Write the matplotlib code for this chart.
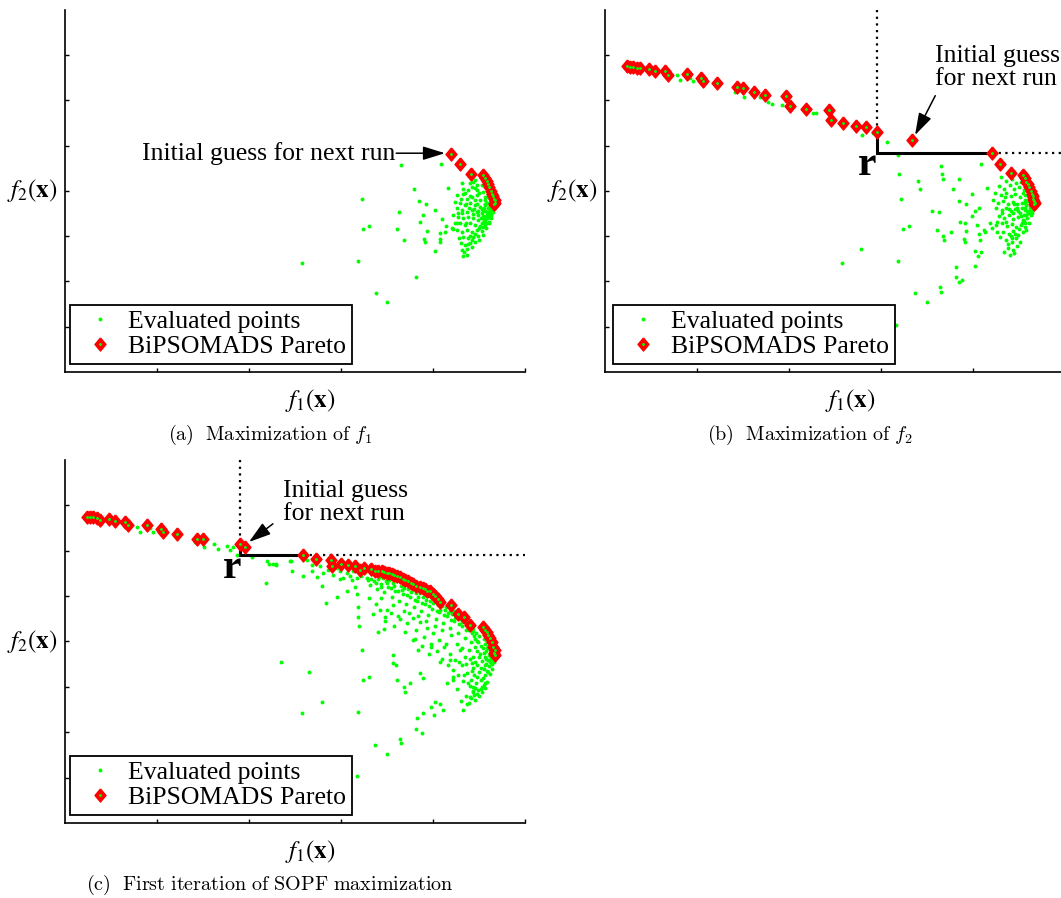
import numpy as np
import matplotlib.pyplot as plt
from matplotlib.lines import Line2D
from matplotlib.legend_handler import HandlerTuple

plt.rcParams['font.family'] = ['Liberation Serif', 'DejaVu Serif']

# ---------------- data (arbitrary objective units, one unit per tick) -------------
# (a) maximization of f1
a_pareto = np.array([
    [4.199, 4.81], [4.293, 4.60], [4.409, 4.37], [4.540, 4.35], [4.560, 4.29],
    [4.583, 4.22], [4.600, 4.15], [4.612, 4.08], [4.630, 4.00], [4.641, 3.93],
    [4.655, 3.88], [4.663, 3.83], [4.670, 3.79], [4.674, 3.74], [4.665, 3.70]])
a_eval = np.array([
    [3.649, 4.56], [4.087, 4.59], [4.160, 4.07], [3.794, 4.03], [3.225, 3.82],
    [3.852, 3.77], [3.928, 3.70], [3.634, 3.53], [4.022, 3.57], [3.891, 3.46],
    [3.862, 3.31], [4.094, 3.38], [4.138, 3.23], [3.239, 3.16], [3.308, 3.23],
    [3.612, 3.15], [3.931, 3.11], [4.130, 3.10], [3.688, 2.91], [3.906, 2.94],
    [3.917, 2.86], [4.073, 3.06], [4.077, 2.94], [4.073, 2.88], [4.026, 2.68],
    [2.580, 2.41], [3.189, 2.46], [3.819, 2.10], [3.381, 1.74], [3.500, 1.54],
    [4.203, 3.17], [4.214, 3.15],
    [4.312, 4.18], [4.402, 4.17], [4.460, 4.24], [4.330, 4.05], [4.420, 4.09],
    [4.475, 4.02], [4.529, 4.13], [4.584, 4.09], [4.258, 3.91], [4.330, 3.94],
    [4.366, 3.83], [4.420, 3.87], [4.475, 3.91], [4.511, 3.80], [4.566, 3.87],
    [4.602, 3.94], [4.638, 3.83], [4.239, 3.76], [4.294, 3.72], [4.348, 3.69],
    [4.402, 3.72], [4.457, 3.69], [4.511, 3.65], [4.566, 3.69], [4.620, 3.69],
    [4.656, 3.72], [4.258, 3.61], [4.312, 3.58], [4.366, 3.54], [4.420, 3.58],
    [4.475, 3.54], [4.529, 3.50], [4.584, 3.54], [4.631, 3.58], [4.221, 3.47],
    [4.276, 3.43], [4.330, 3.39], [4.384, 3.43], [4.439, 3.39], [4.493, 3.36],
    [4.547, 3.39], [4.602, 3.43], [4.294, 3.28], [4.348, 3.25], [4.402, 3.28],
    [4.457, 3.25], [4.511, 3.22], [4.566, 3.28], [4.613, 3.32], [4.258, 3.14],
    [4.312, 3.10], [4.366, 3.14], [4.420, 3.10], [4.475, 3.14], [4.529, 3.12],
    [4.576, 3.17], [4.330, 2.99], [4.384, 2.95], [4.439, 2.99], [4.493, 3.00],
    [4.540, 3.02], [4.301, 2.84], [4.348, 2.80], [4.402, 2.84], [4.457, 2.88],
    [4.504, 2.91], [4.312, 2.69], [4.366, 2.71], [4.420, 2.77], [4.323, 2.55],
    [4.374, 2.58], [4.547, 3.58], [4.584, 3.47], [4.620, 3.50], [4.602, 3.61],
    [4.566, 3.36], [4.529, 3.28], [4.493, 3.47], [4.457, 3.80], [4.384, 4.02],
    [4.475, 4.13], [4.431, 4.20], [4.620, 3.76], [4.642, 3.65], [4.613, 3.54],
    [4.591, 3.39], [4.569, 3.25], [4.540, 3.19], [4.634, 3.47], [4.605, 3.28],
    [4.663, 3.61], [4.649, 3.54], [4.630, 3.40], [4.610, 3.62], [4.590, 3.73],
    [4.620, 3.58], [4.650, 3.68], [4.600, 3.45], [4.570, 3.55], [4.550, 3.62],
    [4.580, 3.30], [4.540, 3.45],
    [4.35, 3.96], [4.39, 3.62], [4.44, 3.48], [4.48, 3.70], [4.52, 3.40],
    [4.56, 3.80], [4.60, 3.86], [4.62, 3.66], [4.64, 3.56], [4.66, 3.64],
    [4.61, 3.52], [4.58, 3.44], [4.55, 3.33], [4.50, 3.18], [4.46, 3.05],
    [4.42, 2.92], [4.38, 2.82], [4.34, 2.65], [4.28, 2.96], [4.26, 3.30],
    [4.32, 3.50], [4.36, 3.30], [4.40, 3.00], [4.45, 3.60], [4.49, 3.55],
    [4.53, 3.60], [4.57, 3.70], [4.60, 3.92], [4.63, 3.88], [4.54, 3.98],
    [4.50, 3.96], [4.46, 4.06], [4.40, 3.88], [4.36, 3.70], [4.30, 3.82],
    [4.27, 3.52], [4.24, 3.28]])

# (b) maximization of f2
b_pareto = np.array([
    [0.243, 6.75], [0.272, 6.74], [0.308, 6.73], [0.344, 6.70], [0.380, 6.70],
    [0.482, 6.69], [0.544, 6.65], [0.652, 6.65], [0.689, 6.56], [0.895, 6.58],
    [1.044, 6.50], [1.069, 6.43], [1.221, 6.37], [1.439, 6.30], [1.504, 6.28],
    [1.620, 6.17], [1.739, 6.11], [1.964, 6.10], [2.011, 5.87], [2.188, 5.81],
    [2.435, 5.78], [2.457, 5.56], [2.591, 5.49], [2.728, 5.42], [2.833, 5.40],
    [2.957, 5.29], [3.334, 5.12],
    [4.203, 4.83], [4.294, 4.59], [4.410, 4.39], [4.540, 4.35], [4.560, 4.28],
    [4.576, 4.20], [4.595, 4.15], [4.613, 4.09], [4.630, 4.00], [4.638, 3.94],
    [4.650, 3.88], [4.656, 3.83], [4.668, 3.78], [4.674, 3.74], [4.665, 3.70]])
b_eval = np.array([
    [0.787, 6.56], [0.816, 6.45], [0.924, 6.48], [0.960, 6.43], [1.413, 6.17],
    [1.511, 6.08], [1.685, 6.08], [1.776, 5.97], [1.812, 5.92], [1.921, 5.89],
    [2.265, 5.72], [2.294, 5.71], [2.790, 5.23], [2.917, 5.27], [3.069, 5.08],
    [3.200, 4.36], [3.406, 4.22], [3.424, 4.04], [3.221, 3.82], [3.649, 4.55],
    [3.660, 4.38], [3.671, 4.26], [3.848, 4.26], [3.786, 4.03], [3.848, 3.77],
    [3.924, 3.70], [3.989, 3.93], [4.084, 4.59], [4.156, 4.07], [4.065, 3.63],
    [4.022, 3.56], [3.555, 3.55], [3.627, 3.53], [3.236, 3.16], [3.308, 3.23],
    [3.609, 3.14], [3.758, 3.10], [3.678, 3.00], [3.685, 2.91], [3.863, 3.32],
    [3.913, 3.28], [3.924, 3.12], [3.902, 2.94], [3.913, 2.88], [3.989, 3.44],
    [4.040, 3.24], [4.069, 3.04], [4.076, 2.91], [4.026, 2.68], [4.051, 2.57],
    [4.084, 2.64], [4.123, 3.14], [4.134, 3.09], [4.185, 3.28], [4.203, 3.17],
    [4.250, 3.24], [4.257, 3.10], [3.185, 2.46], [3.819, 2.32], [4.018, 2.35],
    [3.815, 2.10], [3.852, 1.99], [3.884, 2.02], [3.642, 1.87], [3.652, 1.77],
    [3.373, 1.74], [3.497, 1.54], [3.167, 1.04], [2.786, 2.71], [2.580, 2.41],
    [3.185, 4.79],
    [4.30, 4.30], [4.36, 4.22], [4.42, 4.25], [4.47, 4.18], [4.52, 4.20],
    [4.28, 4.10], [4.34, 4.05], [4.40, 4.12], [4.45, 4.03], [4.50, 4.08],
    [4.55, 4.02], [4.24, 3.95], [4.30, 3.90], [4.36, 3.96], [4.41, 3.88],
    [4.46, 3.93], [4.51, 3.86], [4.56, 3.90], [4.61, 3.84], [4.22, 3.80],
    [4.27, 3.74], [4.33, 3.78], [4.38, 3.71], [4.43, 3.76], [4.48, 3.70],
    [4.53, 3.74], [4.58, 3.68], [4.63, 3.72], [4.25, 3.62], [4.31, 3.58],
    [4.36, 3.63], [4.41, 3.55], [4.46, 3.60], [4.51, 3.52], [4.56, 3.57],
    [4.60, 3.50], [4.64, 3.60], [4.28, 3.45], [4.34, 3.40], [4.39, 3.46],
    [4.44, 3.38], [4.49, 3.43], [4.54, 3.36], [4.59, 3.41], [4.63, 3.46],
    [4.31, 3.28], [4.37, 3.22], [4.42, 3.27], [4.47, 3.20], [4.52, 3.25],
    [4.57, 3.19], [4.61, 3.30], [4.33, 3.10], [4.39, 3.04], [4.44, 3.12],
    [4.49, 3.02], [4.54, 3.08], [4.58, 3.14], [4.36, 2.92], [4.42, 2.86],
    [4.47, 2.95], [4.51, 2.88], [4.38, 2.74], [4.44, 2.70], [4.48, 2.78],
    [4.40, 2.58], [4.45, 2.62], [4.62, 3.62], [4.65, 3.66], [4.60, 3.78],
    [4.57, 3.62], [4.55, 3.46], [4.62, 3.55], [4.64, 3.52], [4.59, 3.56],
    [4.53, 3.30], [4.56, 3.28],
    [4.35, 3.86], [4.39, 3.60], [4.44, 3.50], [4.48, 3.62], [4.52, 3.44],
    [4.56, 3.80], [4.60, 3.88], [4.62, 3.66], [4.64, 3.56], [4.66, 3.64],
    [4.61, 3.50], [4.58, 3.46], [4.55, 3.33], [4.50, 3.15], [4.46, 3.05],
    [4.42, 2.95], [4.38, 2.82], [4.34, 2.66], [4.29, 2.98], [4.26, 3.32],
    [4.32, 3.50], [4.36, 3.32], [4.41, 3.00], [4.45, 3.70], [4.49, 3.55],
    [4.53, 3.62], [4.57, 3.72], [4.61, 3.95], [4.63, 3.90], [4.54, 3.96]])
b_ref = [2.957, 4.83]

# (c) first iteration of SOPF maximization
c_pareto = np.array([
    [0.236, 6.75], [0.272, 6.73], [0.308, 6.73], [0.344, 6.71], [0.380, 6.67],
    [0.482, 6.69], [0.544, 6.66], [0.652, 6.64], [0.689, 6.56], [0.895, 6.56],
    [1.044, 6.47], [1.069, 6.42], [1.221, 6.36], [1.439, 6.25], [1.504, 6.25],
    [1.902, 6.15], [1.957, 6.07],
    [2.583, 5.90], [2.728, 5.81], [2.888, 5.79], [2.898, 5.66], [2.996, 5.70],
    [3.080, 5.68], [3.152, 5.66], [3.206, 5.57], [3.250, 5.61], [3.322, 5.59],
    [3.369, 5.56], [3.400, 5.55], [3.442, 5.54], [3.470, 5.53], [3.496, 5.51],
    [3.520, 5.50], [3.551, 5.48], [3.580, 5.46], [3.605, 5.44], [3.640, 5.41],
    [3.677, 5.37], [3.700, 5.35], [3.732, 5.32], [3.760, 5.29], [3.786, 5.26],
    [3.820, 5.23], [3.859, 5.20], [3.890, 5.18], [3.913, 5.15], [3.940, 5.12],
    [3.967, 5.10], [4.000, 5.05], [4.022, 5.00], [4.050, 4.93], [4.076, 4.87],
    [4.192, 4.80], [4.275, 4.60], [4.337, 4.54], [4.402, 4.36], [4.547, 4.32],
    [4.570, 4.26], [4.590, 4.21], [4.600, 4.14], [4.619, 4.07], [4.640, 3.98],
    [4.656, 3.88], [4.670, 3.80], [4.674, 3.70], [4.660, 3.75]])
c_eval = np.array([
    [0.787, 6.53], [0.816, 6.42], [0.924, 6.49], [0.960, 6.42], [1.413, 6.20],
    [1.511, 6.07], [1.623, 6.15], [1.667, 6.03], [1.758, 6.10], [1.794, 6.01],
    [1.830, 6.09], [1.866, 5.90], [2.029, 5.85], [2.192, 5.76], [2.221, 5.71],
    [2.294, 5.71], [2.185, 5.28], [2.446, 5.78], [2.464, 5.54],
    [2.264, 5.70], [2.293, 5.68], [2.453, 5.76], [2.590, 5.44], [2.681, 5.54],
    [2.743, 5.41], [2.790, 5.22], [2.837, 4.85], [2.960, 4.97], [2.989, 5.37],
    [3.061, 5.10], [3.098, 5.43], [3.177, 5.04], [3.185, 4.76], [3.188, 4.53],
    [3.199, 4.34], [3.224, 3.81], [3.243, 3.15], [3.308, 3.22], [3.406, 4.21],
    [3.467, 4.27], [3.478, 4.53], [3.561, 3.70], [3.569, 3.53], [3.598, 3.48],
    [3.612, 3.15], [3.685, 3.00], [3.699, 2.89], [3.750, 3.08], [3.786, 4.03],
    [3.841, 3.81], [3.859, 3.30], [3.888, 3.19], [3.822, 2.31], [3.815, 2.08],
    [3.877, 1.99], [3.895, 2.42], [3.975, 2.56], [4.022, 2.67], [4.076, 2.63],
    [4.112, 2.49], [3.982, 3.87], [4.011, 2.38], [3.373, 1.72], [3.500, 1.53],
    [3.641, 1.84], [3.656, 1.77], [3.177, 1.03], [2.344, 3.55], [2.656, 3.33],
    [2.790, 2.67], [2.580, 2.42], [3.188, 2.45], [4.304, 2.69], [4.322, 2.50],
    [4.366, 2.63], [4.402, 2.78], [4.438, 2.89], [4.257, 2.96], [4.149, 3.08],
    [4.221, 3.22],
    [2.627, 5.79], [2.681, 5.68], [2.772, 5.65], [2.808, 5.50], [2.862, 5.57],
    [2.917, 5.46], [2.953, 5.61], [2.989, 5.54], [3.025, 5.39], [3.061, 5.50],
    [3.116, 5.35], [3.134, 5.54], [3.152, 5.20], [3.170, 5.39],
    [3.28, 5.40], [3.31, 5.25], [3.34, 5.48], [3.36, 5.32], [3.39, 5.15],
    [3.41, 5.42], [3.43, 5.26], [3.45, 5.47], [3.47, 5.08], [3.49, 5.34],
    [3.51, 5.20], [3.53, 5.43], [3.55, 4.98], [3.57, 5.28], [3.59, 5.12],
    [3.61, 5.38], [3.63, 4.90], [3.65, 5.22], [3.67, 5.05], [3.69, 5.30],
    [3.71, 4.82], [3.73, 5.15], [3.75, 4.97], [3.77, 5.22], [3.79, 4.75],
    [3.81, 5.07], [3.83, 4.90], [3.85, 5.14], [3.87, 4.66], [3.89, 4.98],
    [3.91, 4.82], [3.93, 5.05], [3.95, 4.58], [3.97, 4.90], [3.99, 4.72],
    [4.01, 4.96], [4.03, 4.50], [4.05, 4.80], [4.07, 4.64], [4.09, 4.86],
    [4.11, 4.40], [4.13, 4.70], [4.15, 4.55], [4.17, 4.76], [4.19, 4.30],
    [4.21, 4.60], [4.23, 4.45], [4.25, 4.66], [4.27, 4.18], [4.29, 4.50],
    [4.31, 4.35], [4.33, 4.55], [4.35, 4.08], [4.37, 4.40], [4.39, 4.25],
    [4.41, 3.98], [4.43, 4.30], [4.45, 4.12],
    [3.30, 4.95], [3.38, 4.82], [3.44, 4.95], [3.50, 4.70], [3.56, 4.80],
    [3.62, 4.55], [3.68, 4.68], [3.72, 4.40], [3.78, 4.52], [3.82, 4.25],
    [3.86, 4.42], [3.90, 4.10], [3.94, 4.30], [3.98, 3.95], [4.00, 4.18],
    [4.04, 3.78], [4.06, 4.02], [4.10, 3.62], [4.12, 3.88], [4.16, 3.48],
    [4.18, 3.72], [4.22, 3.38], [4.24, 3.60], [4.27, 3.25], [4.29, 3.82],
    [4.31, 3.48], [4.33, 3.12], [4.35, 3.66], [4.37, 3.30], [4.39, 3.80],
    [4.40, 3.02], [4.42, 3.52],
    [4.44, 3.65], [4.45, 3.25], [4.46, 3.88], [4.47, 3.08], [4.48, 3.48],
    [4.49, 3.98], [4.50, 3.32], [4.51, 3.72], [4.52, 2.95], [4.52, 3.15],
    [4.53, 3.56], [4.54, 3.86], [4.55, 3.40], [4.55, 3.05], [4.56, 3.66],
    [4.57, 3.25], [4.57, 3.95], [4.58, 3.50], [4.58, 3.78], [4.59, 3.35],
    [4.60, 3.60], [4.60, 3.90], [4.61, 3.45], [4.61, 3.70], [4.62, 3.55],
    [4.62, 3.80], [4.63, 3.62], [4.63, 3.88], [4.64, 3.70], [4.64, 3.50],
    [4.65, 3.75], [4.65, 3.62], [4.55, 4.05], [4.50, 4.12], [4.47, 4.18],
    [4.58, 4.02], [4.62, 3.98], [4.48, 2.85], [4.46, 2.98], [4.43, 2.90],
    [4.50, 2.80], [4.53, 2.88], [4.56, 2.98], [4.59, 3.10], [4.62, 3.28],
    [4.64, 3.40], [4.66, 3.55], [4.41, 3.15], [4.44, 3.42], [4.46, 2.72],
    [4.39, 2.65], [4.36, 2.80],
    [3.22, 5.45], [3.26, 5.52], [3.29, 5.35], [3.33, 5.38], [3.35, 5.52],
    [3.38, 5.28], [3.40, 5.38], [3.42, 5.50], [3.44, 5.20], [3.46, 5.40],
    [3.48, 5.46], [3.50, 5.28], [3.52, 5.36], [3.54, 5.18], [3.56, 5.42],
    [3.58, 5.22], [3.60, 5.32], [3.62, 5.10], [3.64, 5.36], [3.66, 5.14],
    [3.68, 5.18], [3.70, 5.26], [3.72, 5.02], [3.74, 5.22], [3.76, 5.08],
    [3.78, 5.16], [3.80, 4.92], [3.82, 5.12], [3.84, 4.98], [3.86, 5.06],
    [3.88, 4.85], [3.90, 5.08], [3.92, 4.92], [3.94, 5.00], [3.96, 4.78],
    [3.98, 4.98], [4.00, 4.85], [4.02, 4.90], [4.04, 4.68], [4.06, 4.88],
    [4.08, 4.70], [4.10, 4.78], [4.12, 4.58], [4.14, 4.76], [4.16, 4.62],
    [4.18, 4.68], [4.20, 4.48], [4.22, 4.68], [4.24, 4.52], [4.26, 4.56],
    [4.28, 4.38], [4.30, 4.58], [4.32, 4.42], [4.34, 4.46], [4.36, 4.25],
    [4.38, 4.35], [4.40, 4.30], [4.42, 4.18], [4.44, 4.22], [4.46, 4.05],
    [4.48, 4.00],
    [3.35, 4.60], [3.42, 4.70], [3.48, 4.45], [3.54, 4.62], [3.58, 4.35],
    [3.64, 4.50], [3.70, 4.20], [3.74, 4.62], [3.80, 4.05], [3.84, 4.55],
    [3.88, 3.90], [3.92, 4.45], [3.96, 3.72], [4.02, 4.35], [4.08, 3.55],
    [4.10, 4.25], [4.14, 3.95], [4.18, 3.58], [4.20, 4.15], [4.22, 3.15],
    [4.26, 3.95], [4.28, 3.55], [4.32, 3.85], [4.34, 3.25], [4.36, 3.50],
    [4.38, 3.08], [4.40, 3.62], [4.42, 3.35], [4.44, 3.00], [4.46, 3.55],
    [4.48, 3.22], [4.50, 3.65], [4.52, 3.42], [4.54, 3.20], [4.56, 3.48],
    [4.58, 3.62], [4.60, 3.32], [4.62, 3.68], [4.64, 3.58], [4.66, 3.65],
    [4.53, 3.00], [4.57, 3.08], [4.49, 2.92], [4.45, 2.82], [4.41, 2.75],
    [4.55, 3.75], [4.59, 3.85], [4.63, 3.75], [4.60, 4.00], [4.52, 3.90],
    [4.48, 3.78]])
c_ref = [1.902, 5.90]

captions = [r'$\mathrm{(a)\ \ Maximization\ of\ }f_1$',
            r'$\mathrm{(b)\ \ Maximization\ of\ }f_2$',
            r'$\mathrm{(c)\ \ First\ iteration\ of\ SOPF\ maximization}$']

GREEN = '#00ff00'
RED = '#ff0000'
# diamond slightly taller than wide, like the MATLAB 'd' marker
DIAMOND = [(0, 1), (0.84, 0), (0, -1), (-0.84, 0), (0, 1)]
DOT = dict(ls='none', marker='o', ms=2.8, mfc=GREEN, mec='none')
CDOT = dict(ls='none', marker='o', ms=2.1, mfc=GREEN, mec='none')
DIA = dict(ls='none', marker=DIAMOND, ms=9.4, mfc=RED, mec=RED, mew=1.0)
DOTTED = dict(color='k', lw=1.6, ls=(0, (1, 2)))

fig = plt.figure(figsize=(10.61, 8.98), dpi=100)
W, H = 1061.0, 898.0


def make_axes(left, bottom, ytick_px):
    ax = fig.add_axes([left / W, 1 - bottom / H, 460 / W, 8 * ytick_px / H])
    ax.set_xlim(0, 5)
    ax.set_ylim(0, 8)
    for s in ['top', 'right']:
        ax.spines[s].set_visible(False)
    for s in ['left', 'bottom']:
        ax.spines[s].set_linewidth(1.2)
    ax.set_xticks([1, 2, 3, 4, 5])
    ax.set_yticks([1, 2, 3, 4, 5, 6, 7])
    ax.tick_params(direction='in', length=2.8, width=1.0,
                   labelbottom=False, labelleft=False)
    ax.text(-0.36, 4.0, r'$f_2(\mathbf{x})$', ha='center', va='center',
            fontsize=18, math_fontfamily='stix')
    ax.text(2.67, -0.62, r'$f_1(\mathbf{x})$', ha='center', va='center',
            fontsize=18, math_fontfamily='stix')
    return ax


def draw(ax, ev, par):
    ax.plot(ev[:, 0], ev[:, 1], zorder=2, clip_on=False, **DOT)
    ax.plot(par[:, 0], par[:, 1], zorder=3, clip_on=False, **DIA)
    ax.plot(par[:, 0], par[:, 1], zorder=4, clip_on=False, **CDOT)
    dot = Line2D([], [], **DOT)
    cdot = Line2D([], [], **CDOT)
    dia = Line2D([], [], **DIA)
    return dot, (dia, cdot)


def legend(ax, x0, dot, dia):
    leg = ax.legend([dot, dia], ['Evaluated points', 'BiPSOMADS Pareto'],
                    handler_map={tuple: HandlerTuple(ndivide=1)},
                    loc='lower left', bbox_to_anchor=(x0, 0.022), borderaxespad=0,
                    fontsize=18.5, numpoints=1, handlelength=1.9, handletextpad=0.15,
                    borderpad=0.22, labelspacing=0.08, fancybox=False, framealpha=1)
    leg.get_frame().set_edgecolor('k')
    leg.get_frame().set_linewidth(1.3)
    leg.set_zorder(10)


def reference(ax, ref, top_pt, right_pt, label_xy):
    ax.plot([ref[0], ref[0]], [8, top_pt[1]], zorder=2.5, **DOTTED)
    ax.plot([right_pt[0], 5], [ref[1], ref[1]], zorder=2.5, **DOTTED)
    ax.plot([ref[0], ref[0], right_pt[0]], [top_pt[1], ref[1], ref[1]],
            color='k', lw=2.2, solid_joinstyle='miter', zorder=2.5)
    ax.text(label_xy[0], label_xy[1], 'r', ha='right', va='baseline',
            fontsize=30, fontweight='bold')


ARROW = dict(arrowstyle='-|>,head_length=0.9,head_width=0.28', color='k',
             lw=1.1, mutation_scale=15, shrinkA=0, shrinkB=0)

# (a)
ax = make_axes(65, 372, 45.3)
dot, dia = draw(ax, a_eval, a_pareto)
legend(ax, 0.011, dot, dia)
ax.text(3.59, 4.83, 'Initial guess for next run', ha='right', va='center',
        fontsize=18.5)
ax.annotate('', xy=(4.13, 4.83), xytext=(3.60, 4.83), arrowprops=ARROW)

# (b)
ax = make_axes(605, 372, 45.3)
dot, dia = draw(ax, b_eval, b_pareto)
legend(ax, 0.017, dot, dia)
reference(ax, b_ref, b_pareto[25], b_pareto[27], (2.95, 4.35))
ax.text(3.587, 6.72, 'Initial guess\nfor next run', ha='left', va='center',
        fontsize=18.5, linespacing=1.1)
ax.annotate('', xy=(3.37, 5.23), xytext=(3.59, 6.10), arrowprops=ARROW)

# (c)
ax = make_axes(65, 823, 45.4)
dot, dia = draw(ax, c_eval, c_pareto)
legend(ax, 0.011, dot, dia)
reference(ax, c_ref, c_pareto[15], c_pareto[17], (1.915, 5.40))
ax.text(2.37, 7.06, 'Initial guess\nfor next run', ha='left', va='center',
        fontsize=18.5, linespacing=1.1)
ax.annotate('', xy=(2.00, 6.19), xytext=(2.26, 6.59), arrowprops=ARROW)

# sub-figure captions
fig.text(270 / W, 1 - 435 / H, captions[0], ha='center', va='center',
         fontsize=14.5, math_fontfamily='cm')
fig.text(810 / W, 1 - 435 / H, captions[1], ha='center', va='center',
         fontsize=14.5, math_fontfamily='cm')
fig.text(270 / W, 1 - 885 / H, captions[2], ha='center', va='center',
         fontsize=14.5, math_fontfamily='cm')

fig.savefig('out.png', dpi=100)
